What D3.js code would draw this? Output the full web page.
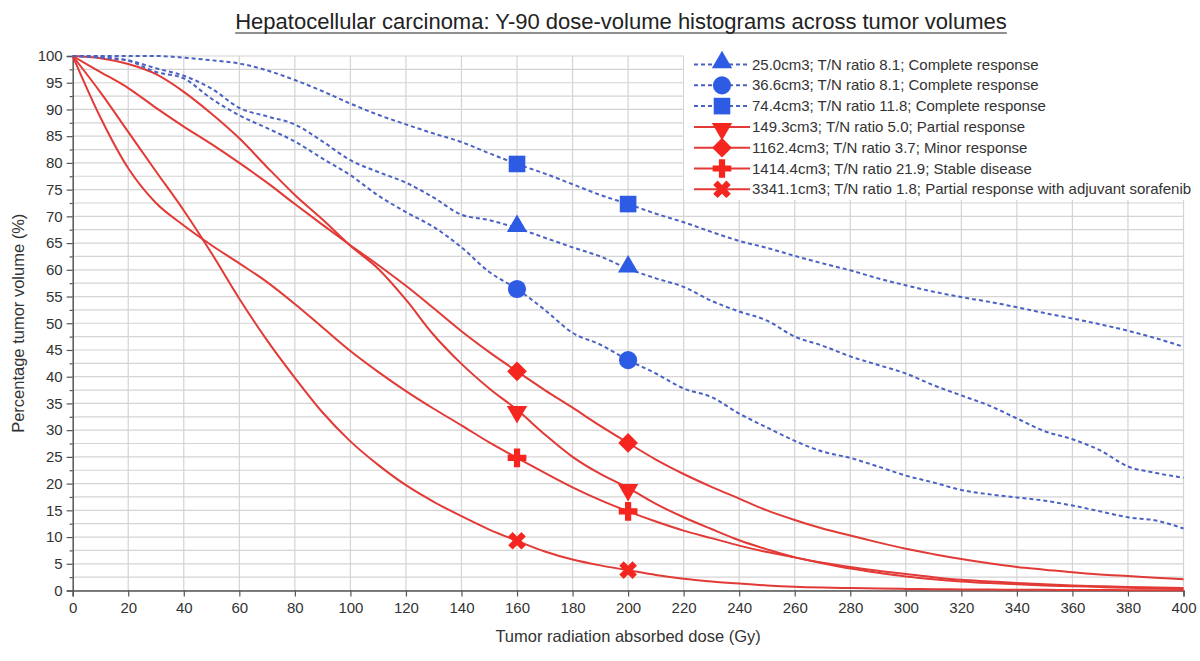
<!DOCTYPE html>
<html><head><meta charset="utf-8">
<script src="https://cdn.jsdelivr.net/npm/d3@7"></script>
<style>
html,body{margin:0;padding:0;background:#fff;}
svg{display:block;font-family:"Liberation Sans",Arial,Helvetica,sans-serif;}
</style></head>
<body><svg id="chart" width="1200" height="661"></svg>
<script>
// ---------- DATA ----------
const titleText = "Hepatocellular carcinoma: Y-90 dose-volume histograms across tumor volumes";
const xLabel = "Tumor radiation absorbed dose (Gy)";
const yLabel = "Percentage tumor volume (%)";
const xTicks = [0,20,40,60,80,100,120,140,160,180,200,220,240,260,280,300,320,340,360,380,400];
const yTicks = [0,5,10,15,20,25,30,35,40,45,50,55,60,65,70,75,80,85,90,95,100];
const markerDoses = [160, 200];

const seriesNames = [
  "25.0cm3; T/N ratio 8.1; Complete response",
  "36.6cm3; T/N ratio 8.1; Complete response",
  "74.4cm3; T/N ratio 11.8; Complete response",
  "149.3cm3; T/N ratio 5.0; Partial response",
  "1162.4cm3; T/N ratio 3.7; Minor response",
  "1414.4cm3; T/N ratio 21.9; Stable disease",
  "3341.1cm3; T/N ratio 1.8; Partial response with adjuvant sorafenib"
];
const seriesGroup = ["blue","blue","blue","red","red","red","red"];
const seriesSymbol = ["triangle","circle","square","triangleDown","diamond","plus","cross"];

const doses = [0,10,20,30,40,50,60,70,80,90,100,110,120,130,140,150,160,170,180,190,200,210,220,230,240,250,260,270,280,290,300,310,320,330,340,350,360,370,380,390,400];

const vol25 = [100,99.8,99.2,97.7,96.3,93.9,90.3,88.7,87.2,84,80.5,78.3,76.3,73.5,70.3,69.3,67.8,66,64.2,62.5,60.2,58.4,56.8,54.2,52.2,50.5,47.5,45.8,43.8,42.2,40.6,38.4,36.5,34.6,32.2,29.8,28.3,26.2,23.2,22.0,21.1];
const vol36 = [100,99.7,99.1,97,95.8,92,88.9,86.5,84,80.8,77.7,73.9,70.8,68,64.2,59.6,56.4,52.5,48.2,46,43.1,40.6,37.8,36.2,33.1,30.5,28,26,24.8,23.2,21.5,20.2,18.8,18,17.4,16.8,15.9,14.8,13.7,13.1,11.6];
const vol74 = [100,100,100,100,99.7,99.2,98.6,97.3,95.5,93.4,91.1,89,87.2,85.5,83.9,81.8,79.8,78,76,74,72.3,70.5,68.9,67.1,65.4,64.1,62.6,61.2,59.9,58.4,57.1,55.9,54.9,54,53,51.9,50.9,49.8,48.6,47.2,45.6];
const vol149 = [100,99.6,98.5,96.6,93.3,89.2,84.6,79.2,74,69.4,64.5,60.2,54.4,47.8,42.4,37.8,33.8,29.2,25,21.8,19.2,16.2,13.7,11.5,9.4,7.7,6.2,5.2,4.4,3.7,3.1,2.5,2.0,1.7,1.4,1.15,0.95,0.8,0.65,0.55,0.45];
const vol1162 = [100,97,94,90.3,86.8,83.5,80,76.3,72.3,68.4,64.6,60.9,57,52.8,48.5,44.6,41,37.5,34.2,30.8,27.6,24.5,21.8,19.4,17.2,15,13.2,11.6,10.3,9,7.8,6.8,5.9,5.1,4.4,3.9,3.4,3.0,2.7,2.4,2.1];
const vol1414 = [100,88.5,79,72.5,68.3,64.6,61.2,57.7,53.6,49.2,44.8,40.9,37.3,34,30.9,27.7,24.8,22,19.3,16.9,14.8,12.9,11.2,9.8,8.4,7.2,6.2,5.1,4.1,3.3,2.6,2.1,1.7,1.4,1.15,0.95,0.8,0.65,0.5,0.4,0.3];
const vol3341 = [100,93.2,85.8,78.4,71.1,63.1,54.6,46.8,39.8,33.3,27.9,23.5,19.7,16.6,13.9,11.4,9.3,7.3,5.8,4.7,3.8,2.9,2.2,1.7,1.3,0.95,0.7,0.55,0.45,0.38,0.3,0.25,0.2,0.17,0.15,0.12,0.1,0.08,0.07,0.06,0.05];

const seriesValues = [vol25, vol36, vol74, vol149, vol1162, vol1414, vol3341];

// ---------- LAYOUT / STYLE ----------
const plot = {left: 72.7, right: 1183.5, top: 56, bottom: 590.5};
const colors = {
  blueLine: "#4a62c4", blueMarker: "#2d5be3",
  redLine: "#e23a36", redMarker: "#f5251f",
  grid: "#d4d4d4", axis: "#555", text: "#333"
};

const svg = d3.select("#chart");
const x = d3.scaleLinear().domain([0,400]).range([plot.left, plot.right]);
const y = d3.scaleLinear().domain([0,100]).range([plot.bottom, plot.top]);

// grid
const gGrid = svg.append("g");
const minorY = d3.range(0, 100.01, 2.5);
gGrid.selectAll("line.h").data(minorY).join("line")
  .attr("x1", plot.left).attr("x2", plot.right)
  .attr("y1", d => y(d)).attr("y2", d => y(d))
  .attr("stroke", colors.grid).attr("stroke-width", 1.2);
gGrid.selectAll("line.v").data(xTicks.slice(1)).join("line")
  .attr("x1", d => x(d)).attr("x2", d => x(d))
  .attr("y1", plot.top).attr("y2", plot.bottom)
  .attr("stroke", colors.grid).attr("stroke-width", 1.2);

// axes
const yAxis = d3.axisLeft(y).tickValues(yTicks).tickSize(6).tickPadding(4);
svg.append("g").attr("transform", `translate(${plot.left},0)`).call(yAxis);
const yMinor = d3.axisLeft(y).tickValues(minorY.filter(v => v % 5 !== 0)).tickSize(3).tickFormat("");
svg.append("g").attr("transform", `translate(${plot.left},0)`).call(yMinor)
  .call(g => g.select(".domain").remove());
const xAxis = d3.axisBottom(x).tickValues(xTicks).tickSize(6).tickPadding(6);
svg.append("g").attr("transform", `translate(0,${plot.bottom})`).call(xAxis);
svg.selectAll(".domain").attr("stroke", colors.axis).attr("stroke-width", 1.5);
svg.selectAll(".tick line").attr("stroke", colors.axis).attr("stroke-width", 1.2);
svg.selectAll(".tick text").attr("fill", colors.text).attr("font-size", 15)
  .attr("font-family", "'Liberation Sans', Arial, sans-serif");

// labels
svg.append("text").attr("x", x(200)).attr("y", 642).attr("text-anchor", "middle")
  .attr("font-size", 16.5).attr("fill", colors.text).text(xLabel);
svg.append("text").attr("transform", `translate(24,${y(50)}) rotate(-90)`).attr("text-anchor", "middle")
  .attr("font-size", 16.5).attr("fill", colors.text).text(yLabel);
const title = svg.append("text").attr("x", 621).attr("y", 29).attr("text-anchor", "middle")
  .attr("font-size", 22).attr("fill", "#222").text(titleText);
const tb = title.node().getBBox();
svg.append("line").attr("x1", tb.x).attr("x2", tb.x + tb.width).attr("y1", 33).attr("y2", 33)
  .attr("stroke", "#222").attr("stroke-width", 1.2);

// symbols
function symPath(kind, s) {
  switch (kind) {
    case "triangle": return d3.symbol(d3.symbolTriangle, s*s*0.55)();
    case "triangleDown": return d3.symbol(d3.symbolTriangle, s*s*0.55)();
    case "circle": return d3.symbol(d3.symbolCircle, s*s*0.8)();
    case "square": return d3.symbol(d3.symbolSquare, s*s*0.85)();
    case "diamond": return d3.symbol(d3.symbolSquare, s*s*0.6)();
    case "plus": return d3.symbol(d3.symbolCross, s*s*0.6)();
    case "cross": return d3.symbol(d3.symbolCross, s*s*0.6)();
  }
}
function symRot(kind) {
  if (kind === "triangleDown") return 180;
  if (kind === "diamond" || kind === "cross") return 45;
  return 0;
}
function symOffset(kind) {
  if (kind === "triangle") return -2;
  if (kind === "triangleDown") return 2;
  return 0;
}

// lines
const line = d3.line().x(d => x(d[0])).y(d => y(d[1])).curve(d3.curveMonotoneX);
const gLines = svg.append("g");
const order = [6,5,4,3,2,1,0];
order.forEach(i => {
  const pts = doses.map((d, k) => [d, seriesValues[i][k]]);
  const isBlue = seriesGroup[i] === "blue";
  gLines.append("path").datum(pts).attr("d", line).attr("fill", "none")
    .attr("stroke", isBlue ? colors.blueLine : colors.redLine)
    .attr("stroke-width", 2)
    .attr("stroke-dasharray", isBlue ? "4,3" : null);
});
// markers
order.forEach(i => {
  const isBlue = seriesGroup[i] === "blue";
  const k = seriesSymbol[i];
  markerDoses.forEach(md => {
    const idx = doses.indexOf(md);
    const v = seriesValues[i][idx];
    gLines.append("path").attr("d", symPath(k, 18))
      .attr("transform", `translate(${x(md)},${y(v) + symOffset(k)}) rotate(${symRot(k)})`)
      .attr("fill", isBlue ? colors.blueMarker : colors.redMarker);
  });
});

// legend
const lg = svg.append("g");
lg.append("rect").attr("x", 684).attr("y", 50).attr("width", 510).attr("height", 150).attr("fill", "#fff");
seriesNames.forEach((name, i) => {
  const cy = 64.5 + i * 20.8;
  const isBlue = seriesGroup[i] === "blue";
  const k = seriesSymbol[i];
  lg.append("line").attr("x1", 694).attr("x2", 750).attr("y1", cy).attr("y2", cy)
    .attr("stroke", isBlue ? colors.blueLine : colors.redLine).attr("stroke-width", 2)
    .attr("stroke-dasharray", isBlue ? "4,3" : null);
  lg.append("path").attr("d", symPath(k, 18))
    .attr("transform", `translate(722,${cy + symOffset(k)}) rotate(${symRot(k)})`)
    .attr("fill", isBlue ? colors.blueMarker : colors.redMarker);
  lg.append("text").attr("x", 752).attr("y", cy + 5).attr("font-size", 15)
    .attr("fill", colors.text).text(name);
});
</script></body></html>
